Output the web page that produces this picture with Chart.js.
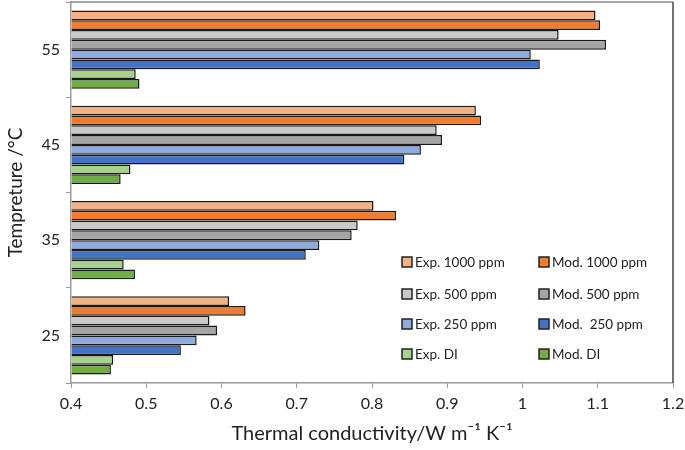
<!DOCTYPE html>
<html>
<head>
<meta charset="utf-8">
<script src="https://cdn.jsdelivr.net/npm/chart.js@4/dist/chart.umd.min.js"></script>
<style>
  html, body { margin: 0; padding: 0; background: #fff; }
</style>
</head>
<body>
<canvas id="chart" width="685" height="450"></canvas>
<script>
// temperatures, top to bottom
const temps = ['55', '45', '35', '25'];

const exp1000 = [1.097, 0.938, 0.802, 0.610];
const mod1000 = [1.103, 0.945, 0.832, 0.632];
const exp500 = [1.048, 0.886, 0.781, 0.584];
const mod500 = [1.111, 0.893, 0.773, 0.594];
const exp250 = [1.011, 0.865, 0.730, 0.567];
const mod250 = [1.023, 0.843, 0.712, 0.546];
const expDI = [0.486, 0.479, 0.470, 0.456];
const modDI = [0.491, 0.466, 0.485, 0.453];

const seriesNames = ['Exp. 1000 ppm', 'Mod. 1000 ppm', 'Exp. 500 ppm', 'Mod. 500 ppm',
  'Exp. 250 ppm', 'Mod.  250 ppm', 'Exp. DI', 'Mod. DI'];
const seriesValues = [exp1000, mod1000, exp500, mod500, exp250, mod250, expDI, modDI];
const colors = ['#F4B183', '#ED7D31', '#C9C9C9', '#A5A5A5', '#8FAADC', '#4472C4', '#A9D18E', '#70AD47'];

const FONT = 'Lato, "Open Sans", sans-serif';

// legend drawn inside the plot area, two columns
const insideLegend = {
  id: 'insideLegend',
  afterDraw(chart) {
    const ctx = chart.ctx;
    const cols = [402, 539];
    const rows = [262, 294, 324, 354];
    ctx.save();
    ctx.font = '13.5px ' + FONT;
    ctx.textBaseline = 'middle';
    chart.data.datasets.forEach((ds, i) => {
      const x = cols[i % 2];
      const y = rows[Math.floor(i / 2)];
      ctx.fillStyle = ds.backgroundColor;
      ctx.fillRect(x, y - 5, 10, 10);
      ctx.strokeStyle = '#222';
      ctx.lineWidth = 1.5;
      ctx.strokeRect(x, y - 5, 10, 10);
      ctx.fillStyle = '#222';
      ctx.fillText(ds.label, x + 13, y + 1);
    });
    ctx.restore();
  }
};

// top and right frame of the plot area
const frame = {
  id: 'frame',
  afterDraw(chart) {
    const { ctx, chartArea: a } = chart;
    ctx.save();
    ctx.lineWidth = 1.5;
    ctx.strokeStyle = '#888';
    ctx.beginPath();
    ctx.moveTo(a.left, a.top);
    ctx.lineTo(a.right, a.top);
    ctx.stroke();
    ctx.strokeStyle = '#444';
    ctx.beginPath();
    ctx.moveTo(a.right, a.top);
    ctx.lineTo(a.right, a.bottom);
    ctx.stroke();
    ctx.restore();
  }
};

new Chart(document.getElementById('chart').getContext('2d'), {
  type: 'bar',
  data: {
    labels: temps,
    datasets: seriesNames.map((name, i) => ({
      label: name,
      data: seriesValues[i],
      backgroundColor: colors[i],
      borderColor: '#1a1a1a',
      borderWidth: 1.5,
      borderSkipped: 'start',
      base: 0.4,
      categoryPercentage: 0.82,
      barPercentage: 1.0,
    })),
  },
  options: {
    indexAxis: 'y',
    responsive: false,
    animation: false,
    devicePixelRatio: 1,
    layout: { padding: { top: 2, right: 12, left: 0, bottom: 0 } },
    scales: {
      x: {
        min: 0.4,
        max: 1.2,
        ticks: {
          stepSize: 0.1,
          color: '#222',
          font: { family: FONT, size: 16 },
          padding: 6,
          maxRotation: 0,
          minRotation: 0,
          autoSkip: false,
          callback: v => Math.round(v * 10) / 10,
        },
        grid: { drawOnChartArea: false, tickLength: 5, color: '#999' },
        border: { color: '#999', width: 1.5 },
        title: {
          display: true,
          text: 'Thermal conductivity/W m\u207B\u00B9 K\u207B\u00B9',
          color: '#222',
          font: { family: FONT, size: 20 },
          padding: { top: 6 },
        },
        afterFit: s => {
          s.height = 67;
          s.paddingLeft = 0;
          s.paddingRight = 0;
        },
      },
      y: {
        ticks: {
          color: '#222',
          font: { family: FONT, size: 16 },
          padding: 6,
          autoSkip: false,
        },
        grid: { drawOnChartArea: false, tickLength: 5, color: '#999', offset: true },
        border: { color: '#999', width: 1.5 },
        title: {
          display: true,
          text: 'Tempreture /\u00B0C',
          color: '#222',
          font: { family: FONT, size: 19 },
          padding: { bottom: 4 },
        },
        afterFit: s => {
          s.width = 71;
          s.paddingTop = 0;
          s.paddingBottom = 0;
        },
      },
    },
    plugins: {
      legend: { display: false },
      tooltip: { enabled: false },
    },
  },
  plugins: [insideLegend, frame],
});
</script>
</body>
</html>
